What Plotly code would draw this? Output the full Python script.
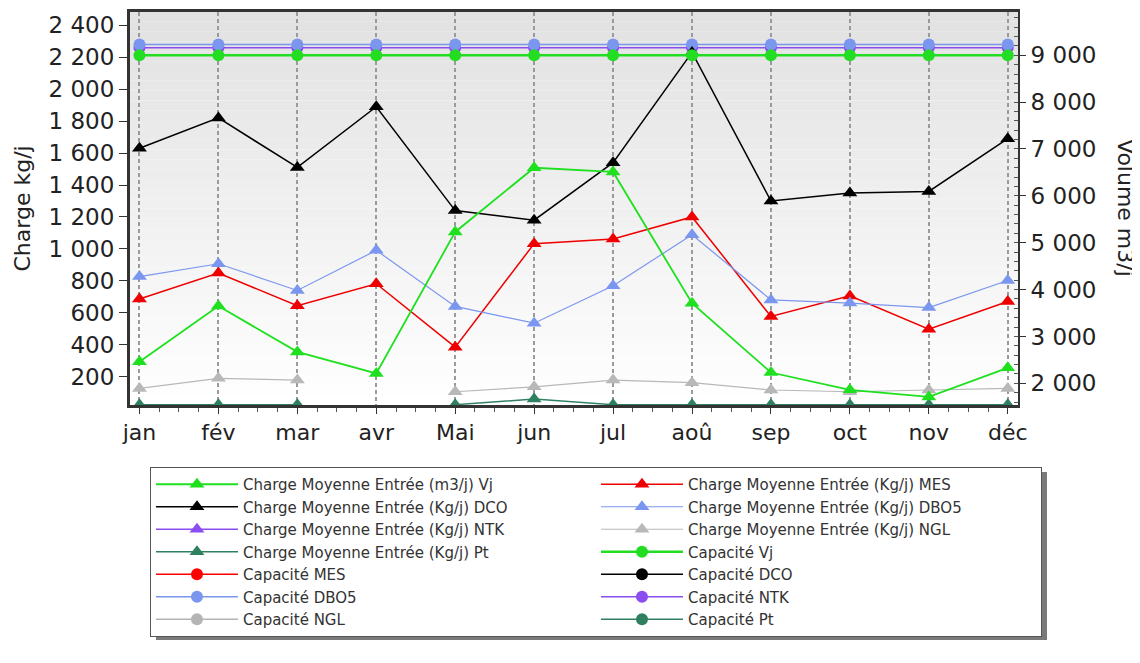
import plotly.graph_objects as go

# ---------------- data ----------------
months = ["jan", "fév", "mar", "avr", "Mai", "jun", "jul", "aoû", "sep", "oct", "nov", "déc"]

vj = [2460, 3650, 2670, 2210, 5230, 6600, 6510, 3710, 2230, 1860, 1710, 2330]
mes = [686, 849, 644, 782, 385, 1033, 1062, 1200, 577, 706, 497, 671]
dco = [1630, 1820, 1510, 1890, 1240, 1180, 1540, 2230, 1300, 1350, 1360, 1690]
dbo5 = [827, 907, 740, 991, 640, 535, 769, 1089, 681, 661, 633, 802]
ntk = [None] * 12
ngl = [127, 190, 179, None, 106, 137, 179, 163, 117, 106, 117, 127]
pt = [25, 25, 25, None, 25, 60, 25, 25, 25, 25, 25, 25]

cap_vj = [9000] * 12
cap_mes = [None] * 12
cap_dco = [None] * 12
cap_dbo5 = [2280] * 12
cap_ntk = [2260] * 12
cap_ngl = [None] * 12
cap_pt = [None] * 12

left_ticks = list(range(200, 2401, 200))
right_ticks = list(range(2000, 9001, 1000))

x = list(range(len(months)))

FONT = "DejaVu Sans"

# (name, values, axis, colour, symbol, legend rank, line width)
series = [
    ("Capacité NTK", cap_ntk, "y", "#8a4df0", "circle", 12, 1.5),
    ("Capacité Vj", cap_vj, "y2", "#22dd22", "circle", 8, 2.5),
    ("Capacité MES", cap_mes, "y", "#ff0000", "circle", 9, 1.5),
    ("Capacité DCO", cap_dco, "y", "#000000", "circle", 10, 1.5),
    ("Capacité DBO5", cap_dbo5, "y", "#7b96ee", "circle", 11, 1.5),
    ("Capacité NGL", cap_ngl, "y", "#b4b4b4", "circle", 13, 1.5),
    ("Capacité Pt", cap_pt, "y", "#2f8060", "circle", 14, 1.5),
    ("Charge Moyenne Entrée (m3/j) Vj", vj, "y2", "#1ee01e", "triangle-up", 1, 1.8),
    ("Charge Moyenne Entrée (Kg/j) MES", mes, "y", "#ee0000", "triangle-up", 2, 1.5),
    ("Charge Moyenne Entrée (Kg/j) DCO", dco, "y", "#000000", "triangle-up", 3, 1.5),
    ("Charge Moyenne Entrée (Kg/j) DBO5", dbo5, "y", "#7b96ee", "triangle-up", 4, 1.2),
    ("Charge Moyenne Entrée (Kg/j) NTK", ntk, "y", "#8a4df0", "triangle-up", 5, 1.5),
    ("Charge Moyenne Entrée (Kg/j) NGL", ngl, "y", "#b8b8b8", "triangle-up", 6, 1.2),
    ("Charge Moyenne Entrée (Kg/j) Pt", pt, "y", "#2f8060", "triangle-up", 7, 1.5),
]

fig = go.Figure()
for name, vals, ax, col, sym, rank, lw in series:
    fig.add_trace(go.Scatter(
        x=x, y=vals, name=name, yaxis=ax, mode="lines+markers",
        line=dict(color=col, width=lw),
        marker=dict(symbol=sym, size=13 if sym == "triangle-up" else 12, color=col,
                    line=dict(width=0)),
        legendrank=rank, connectgaps=False,
    ))

# plot-area gradient (light grey at top to white at bottom)
n = 40
for i in range(n):
    t = i / (n - 1)
    c = int(226 + (255 - 226) * t)
    fig.add_shape(type="rect", xref="x domain", yref="y domain",
                  x0=0, x1=1, y0=1 - (i + 1) / n, y1=1 - i / n,
                  fillcolor=f"rgb({c},{c},{c})", line=dict(width=0), layer="below")

# legend drop shadow (paper coords relative to plot area 888x393)
PW, PH = 888.0, 393.0
def px_x(v):
    return (v - 130) / PW
def px_y(v):
    return (405 - v) / PH

fig.add_shape(type="rect", xref="paper", yref="paper",
              x0=px_x(156), x1=px_x(1047), y0=px_y(472), y1=px_y(640),
              fillcolor="#7a7a7a", line=dict(width=0), layer="below")

# The page body has an 8px margin, so the figure is 8px smaller and shifted.
fig.update_layout(
    width=1132, height=655,
    margin=dict(l=122, r=122, t=4, b=258, autoexpand=False),
    paper_bgcolor="white", plot_bgcolor="white",
    separators=", ",
    font=dict(family=FONT, color="#222"),
    showlegend=True,
    xaxis=dict(
        range=[-0.12, 11.13], tickvals=x, ticktext=months,
        showgrid=True, gridcolor="#9a9a9a", gridwidth=1.5, griddash="4px,3px",
        showline=True, linecolor="#333", linewidth=3, mirror=True,
        ticks="outside", ticklen=6, tickcolor="#333", tickwidth=1,
        minor=dict(dtick=0.25, tick0=0, ticks="outside", ticklen=4, tickcolor="#555", showgrid=False),
        tickfont=dict(size=22, family=FONT, color="#222"), zeroline=False,
    ),
    yaxis=dict(
        range=[23, 2483], tickvals=left_ticks, tickformat=",d",
        showgrid=False, showline=True, linecolor="#333", linewidth=3,
        ticks="outside", ticklen=8, tickcolor="#333",
        tickfont=dict(size=23, family=FONT, color="#222"), zeroline=False,
    ),
    yaxis2=dict(
        range=[1537, 9923], tickvals=right_ticks, tickformat=",d",
        overlaying="y", side="right",
        showgrid=False, showline=True, linecolor="#333", linewidth=2,
        ticks="outside", ticklen=6, tickcolor="#333",
        minor=dict(dtick=200, tick0=0, ticks="inside", ticklen=4, tickcolor="#555"),
        tickfont=dict(size=23, family=FONT, color="#222"), zeroline=False,
    ),
    legend=dict(
        orientation="h", x=0.0225, xanchor="left", y=px_y(467), yanchor="top",
        entrywidth=348, entrywidthmode="pixels", itemwidth=82,
        font=dict(family=FONT, size=15, color="#333"),
        bgcolor="white", bordercolor="#555", borderwidth=1,
    ),
    annotations=[
        dict(text="Charge kg/j", xref="paper", yref="paper", x=-0.1205, y=0.5,
             xanchor="center", yanchor="middle", textangle=-90, showarrow=False,
             font=dict(size=22, family=FONT, color="#222")),
        dict(text="Volume m3/j", xref="paper", yref="paper", x=1.121, y=0.5,
             xanchor="center", yanchor="middle", textangle=90, showarrow=False,
             font=dict(size=22, family=FONT, color="#222")),
    ],
)

fig.write_html("out.html")
